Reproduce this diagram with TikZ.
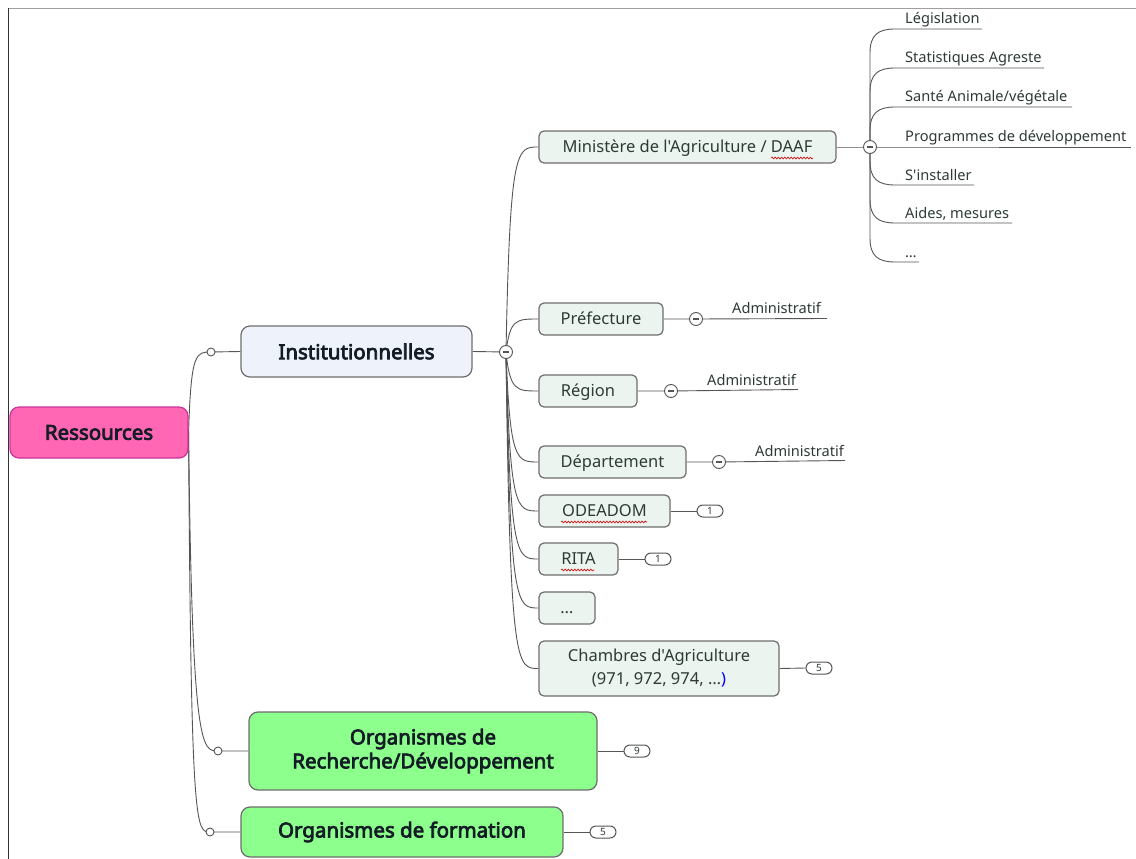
\documentclass[tikz,border=0pt]{standalone}
\usepackage{fontspec}
\setmainfont{Noto Sans}[Ligatures=TeXOff, AutoFakeBold=3.6]
\usetikzlibrary{backgrounds,calc,decorations.pathmorphing}

\definecolor{rootfill}{HTML}{FF66B3}
\definecolor{rootdraw}{HTML}{CC3399}
\definecolor{instfill}{HTML}{EEF2FA}
\definecolor{greenfill}{HTML}{8CFF8C}
\definecolor{subfill}{HTML}{EBF4EF}
\definecolor{boxdraw}{HTML}{6E6E6E}
\definecolor{linecol}{HTML}{555555}
\definecolor{maintext}{HTML}{141C26}
\definecolor{subtext}{HTML}{2E3B35}

\tikzset{
  mainbox/.style={draw=boxdraw, line width=1.2, rounded corners=9,
    font=\fontsize{20.5}{24}\selectfont\bfseries, text=maintext, align=center},
  rootbox/.style={mainbox, fill=rootfill, draw=rootdraw},
  instbox/.style={mainbox, fill=instfill},
  greenbox/.style={mainbox, fill=greenfill},
  subbox/.style={draw=boxdraw, line width=1.2, fill=subfill, rounded corners=5,
    minimum height=32, font=\fontsize{16.5}{23}\selectfont, text=subtext, align=center},
  oneline/.style={text height=13.5, text depth=1.7},
  leaf/.style={anchor=base west, inner sep=0, font=\fontsize{14.6}{16}\selectfont, text=subtext},
  conn/.style={draw=linecol, line width=0.9},
  knob/.style={circle, draw=linecol, line width=0.9, fill=white, minimum size=8, inner sep=0},
  fold/.style={circle, draw=linecol, line width=0.9, fill=white, minimum size=13, inner sep=0,
    path picture={\draw[line width=1.3, linecol]
      ($(path picture bounding box.center)+(-3.2,0)$) -- ($(path picture bounding box.center)+(3.2,0)$);}},
  badge/.style={draw=linecol, line width=1, fill=white, rounded corners=6,
    minimum width=26, minimum height=12, inner sep=0, font=\fontsize{10}{10}\selectfont, text=subtext},
  spell/.style={draw=red!85!black, line width=0.6,
    decorate, decoration={snake, amplitude=0.9, segment length=3.2}},
}

\begin{document}
\begin{tikzpicture}[x=1pt, y=-1pt]
\useasboundingbox (0,0) rectangle (1136,859);

% window frame
\draw[gray!75, line width=1.6] (8,8.5) -- (1136,8.5);
\draw[black!80, line width=1.6] (8.5,8) -- (8.5,859);

% ---- main topics ----
\node[rootbox, minimum width=178, minimum height=51] (res) at (99,432.5) {Ressources};
\node[instbox, minimum width=231, minimum height=51] (inst) at (356.5,351.5) {Institutionnelles};
\node[greenbox, minimum width=348, minimum height=78] (ord) at (423,751) {Organismes de\\Recherche/Développement};
\node[greenbox, minimum width=322, minimum height=50] (ofo) at (402,832) {Organismes de formation};

\node[knob] (k1) at (211,352) {};
\node[knob] (k2) at (218,751) {};
\node[knob] (k3) at (210,832) {};

% ---- institutional subtopics ----
\node[fold] (ic) at (506,352) {};
\node[subbox, oneline, minimum width=297] (min) at (687.5,147) {Ministère de l'Agriculture / DAAF};
\node[subbox, oneline, minimum width=124] (pre) at (601,319) {Préfecture};
\node[subbox, oneline, minimum width=98] (reg) at (588,391) {Région};
\node[subbox, oneline, minimum width=147] (dep) at (612.5,462) {Département};
\node[subbox, oneline, minimum width=131] (ode) at (604.5,511) {ODEADOM};
\node[subbox, oneline, minimum width=79] (rit) at (578.5,559) {RITA};
\node[subbox, oneline, minimum width=56] (dots) at (567,608) {…};
\node[subbox, minimum width=240, minimum height=55] (cha) at (659,668.5)
  {Chambres d'Agriculture\\(971, 972, 974, …\textcolor{blue}{)}};

% spelling marks
\draw[spell] (771,158) -- (813,158);
\draw[spell] (561,522) -- (647,522);
\draw[spell] (561,570) -- (594,570);

% fold buttons and counters
\node[fold] (mc) at (870,147) {};
\node[fold] (pc) at (696,319) {};
\node[fold] (rc) at (671,391) {};
\node[fold] (dc) at (719,462) {};
\node[badge] (b1) at (710,511) {1};
\node[badge] (b2) at (658,559) {1};
\node[badge] (b3) at (819,668) {5};
\node[badge] (b4) at (637,751) {9};
\node[badge] (b5) at (603,832) {5};

% ---- leaves of the ministry ----
\node[leaf] (l1) at (905,24) {Législation};
\node[leaf] (l2) at (905,63) {Statistiques Agreste};
\node[leaf] (l3) at (905,102) {Santé Animale/végétale};
\node[leaf] (l4) at (905,141) {Programmes de développement};
\node[leaf] (l5) at (905,180) {S'installer};
\node[leaf] (l6) at (905,218) {Aides, mesures};
\node[leaf] (l7) at (905,257) {…};
\coordinate (u1) at (982,29);
\coordinate (u2) at (1044,68);
\coordinate (u3) at (1072,107);
\coordinate (u4) at (1131,147);
\coordinate (u5) at (974,185);
\coordinate (u6) at (1012,223);
\coordinate (u7) at (919,262);

% ---- administrative leaves ----
\node[leaf] (a1) at (732,313) {Administratif};
\node[leaf] (a2) at (707,385) {Administratif};
\node[leaf] (a3) at (755,456) {Administratif};
\coordinate (v1) at (827,318.5);
\coordinate (v2) at (798,389.5);
\coordinate (v3) at (845,460.5);

\begin{scope}[on background layer]
  \fill[white] (0,0) rectangle (1136,859);
  % root to main topics
  \draw[conn] (res.east) .. controls (191,352) and (196,352) .. (k1.center) -- (inst.west);
  \draw[conn] (res.east) .. controls (192,751) and (202,751) .. (k2.center) -- (ord.west);
  \draw[conn] (res.east) .. controls (191,832) and (196,832) .. (k3.center) -- (ofo.west);

  % institutional branch
  \draw[conn] (inst.east) -- (ic.center);
  \foreach \n in {min,pre,reg,dep,ode,rit,dots,cha}
    \draw[conn] (ic.center) .. controls ($(ic.center |- \n.west)+(4,0)$) and ($(\n.west)+(-22,0)$) .. (\n.west);

  % ministry leaves: above the button
  \foreach \u in {u1,u2,u3}
    \draw[conn] (mc.center) -- ($(mc.center |- \u)+(0,24)$)
      .. controls ($(mc.center |- \u)+(0,6)$) and ($(mc.center |- \u)+(8,0)$)
      .. ($(mc.center |- \u)+(25,0)$) -- (\u);
  % level with the button
  \draw[conn] (min.east) -- (mc.center) -- (u4);
  % below the button
  \foreach \u in {u5,u6,u7}
    \draw[conn] (mc.center) -- ($(mc.center |- \u)+(0,-24)$)
      .. controls ($(mc.center |- \u)+(0,-6)$) and ($(mc.center |- \u)+(8,0)$)
      .. ($(mc.center |- \u)+(25,0)$) -- (\u);

  % administrative leaves
  \draw[conn] (pre.east) -- (pc.center) -- (v1);
  \draw[conn] (reg.east) -- (rc.center) -- (v2);
  \draw[conn] (dep.east) -- (dc.center) -- (v3);

  % counters
  \draw[conn] (ode.east) -- (b1.west);
  \draw[conn] (rit.east) -- (b2.west);
  \draw[conn] (cha.east) -- (b3.west);
  \draw[conn] (ord.east) -- (b4.west);
  \draw[conn] (ofo.east) -- (b5.west);
\end{scope}
\end{tikzpicture}
\end{document}
